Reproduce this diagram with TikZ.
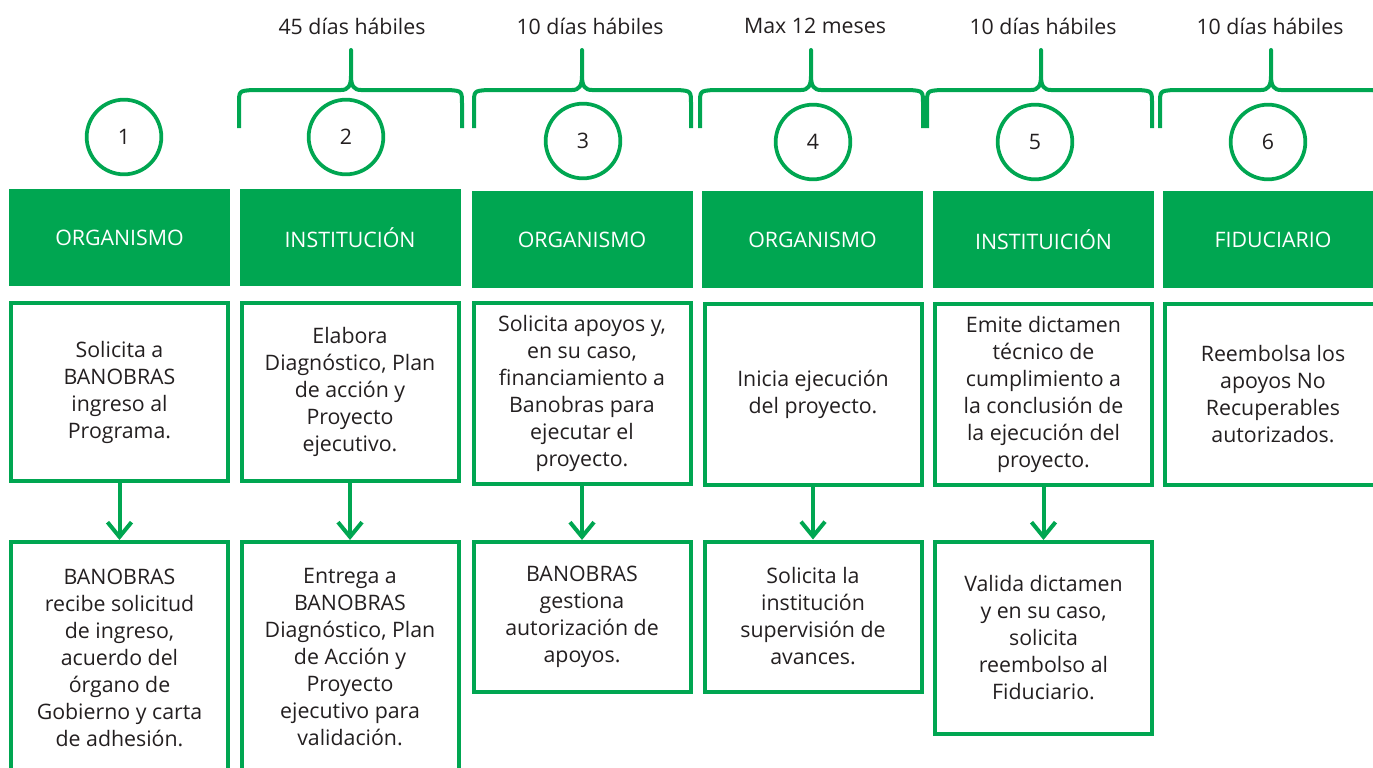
\documentclass[tikz,border=0pt]{standalone}
\usepackage{fontspec}
\setmainfont{Open Sans}
\usetikzlibrary{arrows.meta, positioning}
\definecolor{verde}{HTML}{00A651}
\definecolor{texto}{HTML}{231F20}

\begin{document}
\begin{tikzpicture}[x=0.75pt, y=-0.75pt,
  font=\fontsize{16}{20.25}\selectfont, text=texto,
  header/.style={rectangle, fill=verde, text=white, minimum width=165.75pt, minimum height=72.75pt, inner sep=0pt},
  stepbox/.style={rectangle, draw=verde, line width=3pt, minimum width=162.75pt, align=center, inner sep=0pt},
  numero/.style={circle, draw=verde, line width=2.8pt, minimum size=56pt, inner sep=0pt},
  plazo/.style={inner sep=0pt},
  flecha/.style={draw=verde, line width=3pt, -{Straight Barb[length=11pt, width=18pt, line width=3pt]}},
  llave/.style={draw=verde, line width=3pt, line join=round}]
  \clip (0,0) rectangle (1373,767);

  % Plazos
  \node [plazo] (p2) at (352,26) {45 días hábiles};
  \node [plazo] (p3) at (590,26) {10 días hábiles};
  \node [plazo] (p4) at (815,26) {Max 12 meses};
  \node [plazo] (p5) at (1043,26) {10 días hábiles};
  \node [plazo] (p6) at (1270,26) {10 días hábiles};

  % Llaves
  \foreach \l/\c/\r in {239/351/462, 474/582/691, 700/811/923, 927/1041/1152, 1160/1271/1383}
    \draw [llave] (\l,128) -- (\l,104) .. controls (\l,91) .. (\l+13,90) -- (\c-10,90)
      .. controls (\c-3,90) and (\c,86) .. (\c,76) -- (\c,50) -- (\c,76)
      .. controls (\c,86) and (\c+3,90) .. (\c+10,90) -- (\r-13,90)
      .. controls (\r,91) .. (\r,104) -- (\r,128);

  % Numeros
  \node [numero] (n1) at (124,137) {1};
  \node [numero] (n2) at (346,137) {2};
  \node [numero] (n3) at (583,141) {3};
  \node [numero] (n4) at (813,142) {4};
  \node [numero] (n5) at (1035,142) {5};
  \node [numero] (n6) at (1268,142) {6};

  % Encabezados
  \node [header] (h1) at (119.5,237.5) {ORGANISMO};
  \node [header] (h2) at (350,237.5) {INSTITUCIÓN};
  \node [header] (h3) at (582,239.5) {ORGANISMO};
  \node [header] (h4) at (812.5,239.5) {ORGANISMO};
  \node [header] (h5) at (1043.5,239.5) {INSTITUICIÓN};
  \node [header] (h6) at (1273,239.5) {FIDUCIARIO};

  % Pasos
  \node [stepbox, minimum height=133.5pt] (a1) at (119.5,392) {Solicita a\\BANOBRAS\\ingreso al\\Programa.};
  \node [stepbox, minimum height=133.5pt] (a2) at (350,392) {Elabora\\Diagnóstico, Plan\\de acción y\\Proyecto\\ejecutivo.};
  \node [stepbox, minimum height=135.75pt] (a3) at (582,393.5) {Solicita apoyos y,\\en su caso,\\financiamiento a\\Banobras para\\ejecutar el\\proyecto.};
  \node [stepbox, minimum height=135.75pt] (a4) at (813,394.5) {Inicia ejecución\\del proyecto.};
  \node [stepbox, minimum height=135.75pt] (a5) at (1043.5,394.5) {Emite dictamen\\técnico de\\cumplimiento a\\la conclusión de\\la ejecución del\\proyecto.};
  \node [stepbox, minimum height=135.75pt] (a6) at (1273,394.5) {Reembolsa los\\apoyos No\\Recuperables\\autorizados.};

  \node [stepbox, minimum height=173.25pt] (b1) at (119.5,657.5) {BANOBRAS\\recibe solicitud\\de ingreso,\\acuerdo del\\órgano de\\Gobierno y carta\\de adhesión.};
  \node [stepbox, minimum height=173.25pt] (b2) at (350,657.5) {Entrega a\\BANOBRAS\\Diagnóstico, Plan\\de Acción y\\Proyecto\\ejecutivo para\\validación.};
  \node [stepbox, minimum height=112.5pt] (b3) at (582,617) {BANOBRAS\\gestiona\\autorización de\\apoyos.};
  \node [stepbox, minimum height=112.5pt] (b4) at (813,616.5) {Solicita la\\institución\\supervisión de\\avances.};
  \node [stepbox, minimum height=144pt] (b5) at (1043.5,638) {Valida dictamen\\y en su caso,\\solicita\\reembolso al\\Fiduciario.};

  % Flechas
  \draw [flecha] (a1) -- (b1);
  \draw [flecha] (a2) -- (b2);
  \draw [flecha] (a3) -- (b3);
  \draw [flecha] (a4) -- (b4);
  \draw [flecha] (a5) -- (b5);
\end{tikzpicture}
\end{document}
